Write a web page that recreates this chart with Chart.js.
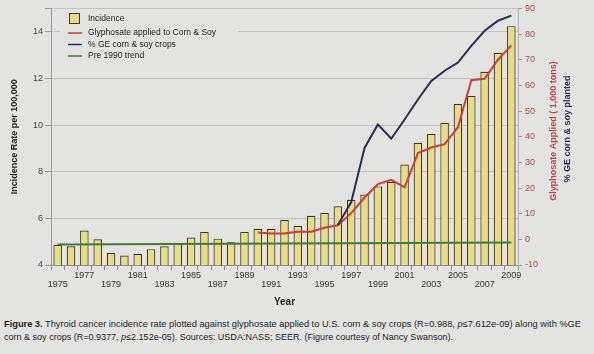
<!DOCTYPE html>
<html>
<head>
<meta charset="utf-8">
<script src="https://cdn.jsdelivr.net/npm/chart.js@4.4.1/dist/chart.umd.min.js"></script>
<style>
  body { margin: 0; background: #e3e3e1; width: 594px; height: 354px; overflow: hidden; position: relative; font-family: "Liberation Sans", Arial, sans-serif; }
  #wrap { position: absolute; left: 0; top: 0; width: 594px; height: 310px; }
  #caption { position: absolute; left: 4px; top: 318px; font-size: 9px; line-height: 13px; color: #262626; white-space: nowrap; }
  #caption span { display: inline-block; transform-origin: 0 0; }
</style>
</head>
<body>
<div id="wrap"><canvas id="chart" width="594" height="310"></canvas></div>
<div id="caption">
  <span id="cap1"><b>Figure 3.</b> Thyroid cancer incidence rate plotted against glyphosate applied to U.S. corn &amp; soy crops (R=0.988, <i>p</i>≤7.612e-09) along with %GE</span><br>
  <span id="cap2">corn &amp; soy crops (R=0.9377, <i>p</i>≤2.152e-05). Sources: USDA:NASS; SEER. (Figure courtesy of Nancy Swanson).</span>
</div>
<script>
// data
const years = [1975, 1976, 1977, 1978, 1979, 1980, 1981, 1982, 1983, 1984,
  1985, 1986, 1987, 1988, 1989, 1990, 1991, 1992, 1993, 1994,
  1995, 1996, 1997, 1998, 1999, 2000, 2001, 2002, 2003, 2004,
  2005, 2006, 2007, 2008, 2009];

// incidence rate per 100,000 (left axis)
const incidence = [4.87, 4.80, 5.48, 5.10, 4.51, 4.41, 4.47, 4.68, 4.80, 4.94,
  5.18, 5.41, 5.13, 4.97, 5.42, 5.55, 5.55, 5.93, 5.67, 6.11,
  6.24, 6.52, 6.80, 7.02, 7.37, 7.56, 8.31, 9.24, 9.62, 10.10,
  10.90, 11.24, 12.28, 13.10, 14.24];

// glyphosate applied, 1,000 tons (right axis)
const glyphosate = [null, null, null, null, null, null, null, null, null, null,
  null, null, null, null, null, 2.7, 2.3, 2.3, 3.0, 3.0,
  4.5, 5.5, 10.2, 16.3, 21.5, 23.2, 20.3, 33.6, 35.8, 37.1,
  43.7, 62.0, 62.6, 70.0, 75.6];

// % GE corn & soy planted (right axis)
const gePercent = [null, null, null, null, null, null, null, null, null, null,
  null, null, null, null, null, null, null, null, null, null,
  null, 5.6, 14.5, 35.6, 44.8, 39.2, 46.7, 54.5, 61.7, 65.7,
  68.9, 75.4, 81.3, 85.2, 87.2];

// pre 1990 trend, end points only (left axis)
const preTrend = [4.88, null, null, null, null, null, null, null, null, null,
  null, null, null, null, null, null, null, null, null, null,
  null, null, null, null, null, null, null, null, null, null,
  null, null, null, null, 4.96];

const leftTicks = [4, 6, 8, 10, 12, 14];

const plotBg = "#e3e3e1";
const barFill = "#eadc80";
const barEdge = "#3a3826";
const red = "#c93e3a";
const navy = "#2a2c58";
const green = "#3f7b3a";
const gridCol = "#c3c3c1";

// legend in the top-left corner of the plot
const boxLegend = {
  id: "boxLegend",
  beforeDatasetsDraw(chart) {
    const ctx = chart.ctx;
    ctx.save();
    ctx.fillStyle = plotBg;
    ctx.fillRect(60, 9, 178, 54);
    ctx.font = "8.5px 'Liberation Sans', Arial, sans-serif";
    ctx.textBaseline = "middle";

    // bar item
    ctx.fillStyle = barFill;
    ctx.fillRect(69, 13, 11, 11);
    ctx.strokeStyle = barEdge;
    ctx.lineWidth = 1;
    ctx.strokeRect(69.5, 13.5, 10, 10);
    ctx.fillStyle = "#222";
    ctx.fillText(chart.data.datasets[3].label, 88, 18.5);

    const rows = [[0, 33], [1, 44.5], [2, 56]];
    rows.forEach(([i, y]) => {
      const ds = chart.data.datasets[i];
      ctx.strokeStyle = ds.borderColor;
      ctx.lineWidth = 1.5;
      ctx.beginPath();
      ctx.moveTo(68, y);
      ctx.lineTo(82, y);
      ctx.stroke();
      ctx.fillText(ds.label, 88, y);
    });
    ctx.restore();
  },
  afterDraw(chart) {
    // right-hand axis titles, reading bottom to top
    const ctx = chart.ctx;
    ctx.save();
    ctx.font = "bold 9px 'Liberation Sans', Arial, sans-serif";
    ctx.textAlign = "center";
    ctx.textBaseline = "middle";
    ctx.translate(554, 131);
    ctx.rotate(-Math.PI / 2);
    ctx.fillStyle = red;
    ctx.fillText("Glyphosate Applied ( 1,000 tons)", 0, 0);
    ctx.fillStyle = navy;
    ctx.fillText("% GE corn & soy planted", 2, 14);
    ctx.restore();
  }
};

const ctx = document.getElementById("chart");

new Chart(ctx, {
  data: {
    labels: years,
    datasets: [
      {
        type: "line",
        label: "Glyphosate applied to Corn & Soy",
        data: glyphosate,
        yAxisID: "y2",
        borderColor: red,
        borderWidth: 2,
        pointRadius: 0,
        tension: 0,
        order: 1
      },
      {
        type: "line",
        label: "% GE corn & soy crops",
        data: gePercent,
        yAxisID: "y2",
        borderColor: navy,
        borderWidth: 2,
        pointRadius: 0,
        tension: 0,
        order: 0
      },
      {
        type: "line",
        label: "Pre 1990 trend",
        data: preTrend,
        yAxisID: "y",
        borderColor: green,
        borderWidth: 2,
        pointRadius: 0,
        spanGaps: true,
        order: 2
      },
      {
        type: "bar",
        label: "Incidence",
        data: incidence,
        yAxisID: "y",
        backgroundColor: barFill,
        borderColor: barEdge,
        borderWidth: 1.2,
        borderSkipped: false,
        barPercentage: 0.64,
        categoryPercentage: 1,
        order: 5
      }
    ]
  },
  options: {
    responsive: false,
    animation: false,
    devicePixelRatio: 1,
    layout: { padding: { top: 6, left: 0, right: 0, bottom: 0 } },
    plugins: {
      legend: { display: false },
      tooltip: { enabled: false }
    },
    scales: {
      x: {
        type: "category",
        offset: true,
        grid: { display: true, drawOnChartArea: false, offset: true, tickLength: 5, tickColor: "#8a8a88" },
        border: { color: "#8a8a88" },
        ticks: {
          autoSkip: false,
          maxRotation: 0,
          minRotation: 0,
          padding: 1,
          color: "#333",
          font: { family: "'Liberation Sans', Arial, sans-serif", size: 9, lineHeight: 1 },
          callback: function (value, index) {
            const y = years[index];
            if ((y - 1975) % 2) return "";
            return ((y - 1975) / 2) % 2 ? [String(y), ""] : ["", String(y)];
          }
        },
        title: {
          display: true,
          text: "Year",
          color: "#222",
          font: { family: "'Liberation Sans', Arial, sans-serif", size: 10, weight: "bold" },
          padding: { top: 0, bottom: 2 }
        },
        afterFit(scale) { scale.height = 45; }
      },
      y: {
        position: "left",
        min: 4,
        max: 15,
        ticks: {
          stepSize: 2,
          padding: 2,
          color: "#444",
          font: { family: "'Liberation Sans', Arial, sans-serif", size: 9 },
          callback: v => leftTicks.includes(v) ? v : ""
        },
        grid: { color: gridCol, tickLength: 6, tickColor: "#9a9a98" },
        border: { color: "#9a9a98" },
        title: {
          display: true,
          text: "Incidence Rate per 100,000",
          color: "#222",
          font: { family: "'Liberation Sans', Arial, sans-serif", size: 9, weight: "bold" },
          padding: { top: 9, bottom: 0 }
        },
        afterFit(scale) { scale.width = 51; }
      },
      y2: {
        position: "right",
        min: -10,
        max: 90,
        ticks: {
          stepSize: 10,
          padding: 3,
          color: "#a9524e",
          font: { family: "'Liberation Sans', Arial, sans-serif", size: 9 }
        },
        grid: { drawOnChartArea: false, tickLength: 4, tickColor: "#9a9a98" },
        border: { color: "#b0b0ae" },
        afterFit(scale) { scale.width = 76; }
      }
    }
  },
  plugins: [boxLegend]
});

// squeeze caption lines to the printed width
function fitLine(id, target) {
  const el = document.getElementById(id);
  const w = el.getBoundingClientRect().width;
  if (w > 0) el.style.transform = "scaleX(" + (target / w) + ")";
}
fitLine("cap1", 577);
fitLine("cap2", 449);
</script>
</body>
</html>
